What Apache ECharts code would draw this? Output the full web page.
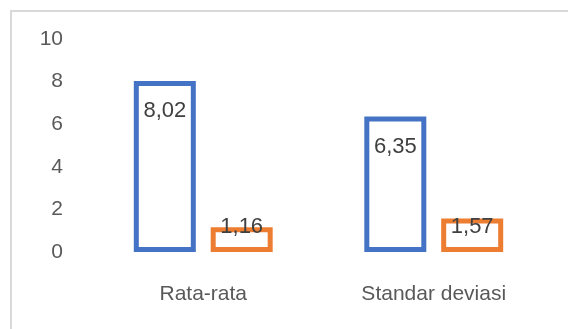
<!DOCTYPE html>
<html>
<head>
<meta charset="utf-8">
<script src="https://cdn.jsdelivr.net/npm/echarts@6/dist/echarts.min.js"></script>
<style>
html,body{margin:0;padding:0;background:#fff;}
#chart{width:568px;height:329px;}
</style>
</head>
<body>
<div id="chart"></div>
<script>
const categories = ['Rata-rata', 'Standar deviasi'];
const seriesA = [8.02, 6.35];
const seriesB = [1.16, 1.57];
const yTicks = [0, 2, 4, 6, 8, 10];

const FONT = '"Liberation Sans", Arial, sans-serif';

function labelFor(v) {
  return v >= 2.5
    ? { position: 'insideTop', distance: 18 }
    : { position: 'insideBottom', distance: 13.5 };
}
function toData(arr) {
  return arr.map(v => ({ value: v, label: labelFor(v) }));
}
const labelStyle = {
  show: true,
  color: '#404040',
  fontSize: 22,
  lineHeight: 24,
  fontFamily: FONT,
  formatter: p => p.value.toFixed(2).replace('.', ',')
};

const chart = echarts.init(document.getElementById('chart'), null, { renderer: 'canvas' });
chart.setOption({
  animation: false,
  backgroundColor: '#fff',
  graphic: [{
    type: 'rect',
    shape: { x: 11, y: 11, width: 700, height: 500 },
    style: { fill: 'none', stroke: '#d9d9d9', lineWidth: 2 },
    silent: true
  }],
  grid: { left: 88, right: 19, top: 38.8, bottom: 77 },
  xAxis: {
    type: 'category',
    data: categories,
    axisLine: { show: false },
    axisTick: { show: false },
    axisLabel: { color: '#595959', fontSize: 21, lineHeight: 24, fontFamily: FONT, margin: 30 }
  },
  yAxis: {
    type: 'value',
    min: yTicks[0],
    max: yTicks[yTicks.length - 1],
    interval: yTicks[1] - yTicks[0],
    splitLine: { show: false },
    axisLine: { show: false },
    axisTick: { show: false },
    axisLabel: { color: '#595959', fontSize: 21, fontFamily: FONT, margin: 25 }
  },
  series: [
    {
      type: 'bar',
      data: toData(seriesA),
      barWidth: 62,
      barGap: '24%',
      itemStyle: { color: '#ffffff', borderColor: '#4472C4', borderWidth: 5 },
      label: labelStyle
    },
    {
      type: 'bar',
      data: toData(seriesB),
      barWidth: 62,
      barGap: '24%',
      itemStyle: { color: '#ffffff', borderColor: '#ED7D31', borderWidth: 5 },
      label: labelStyle
    }
  ]
});
</script>
</body>
</html>
